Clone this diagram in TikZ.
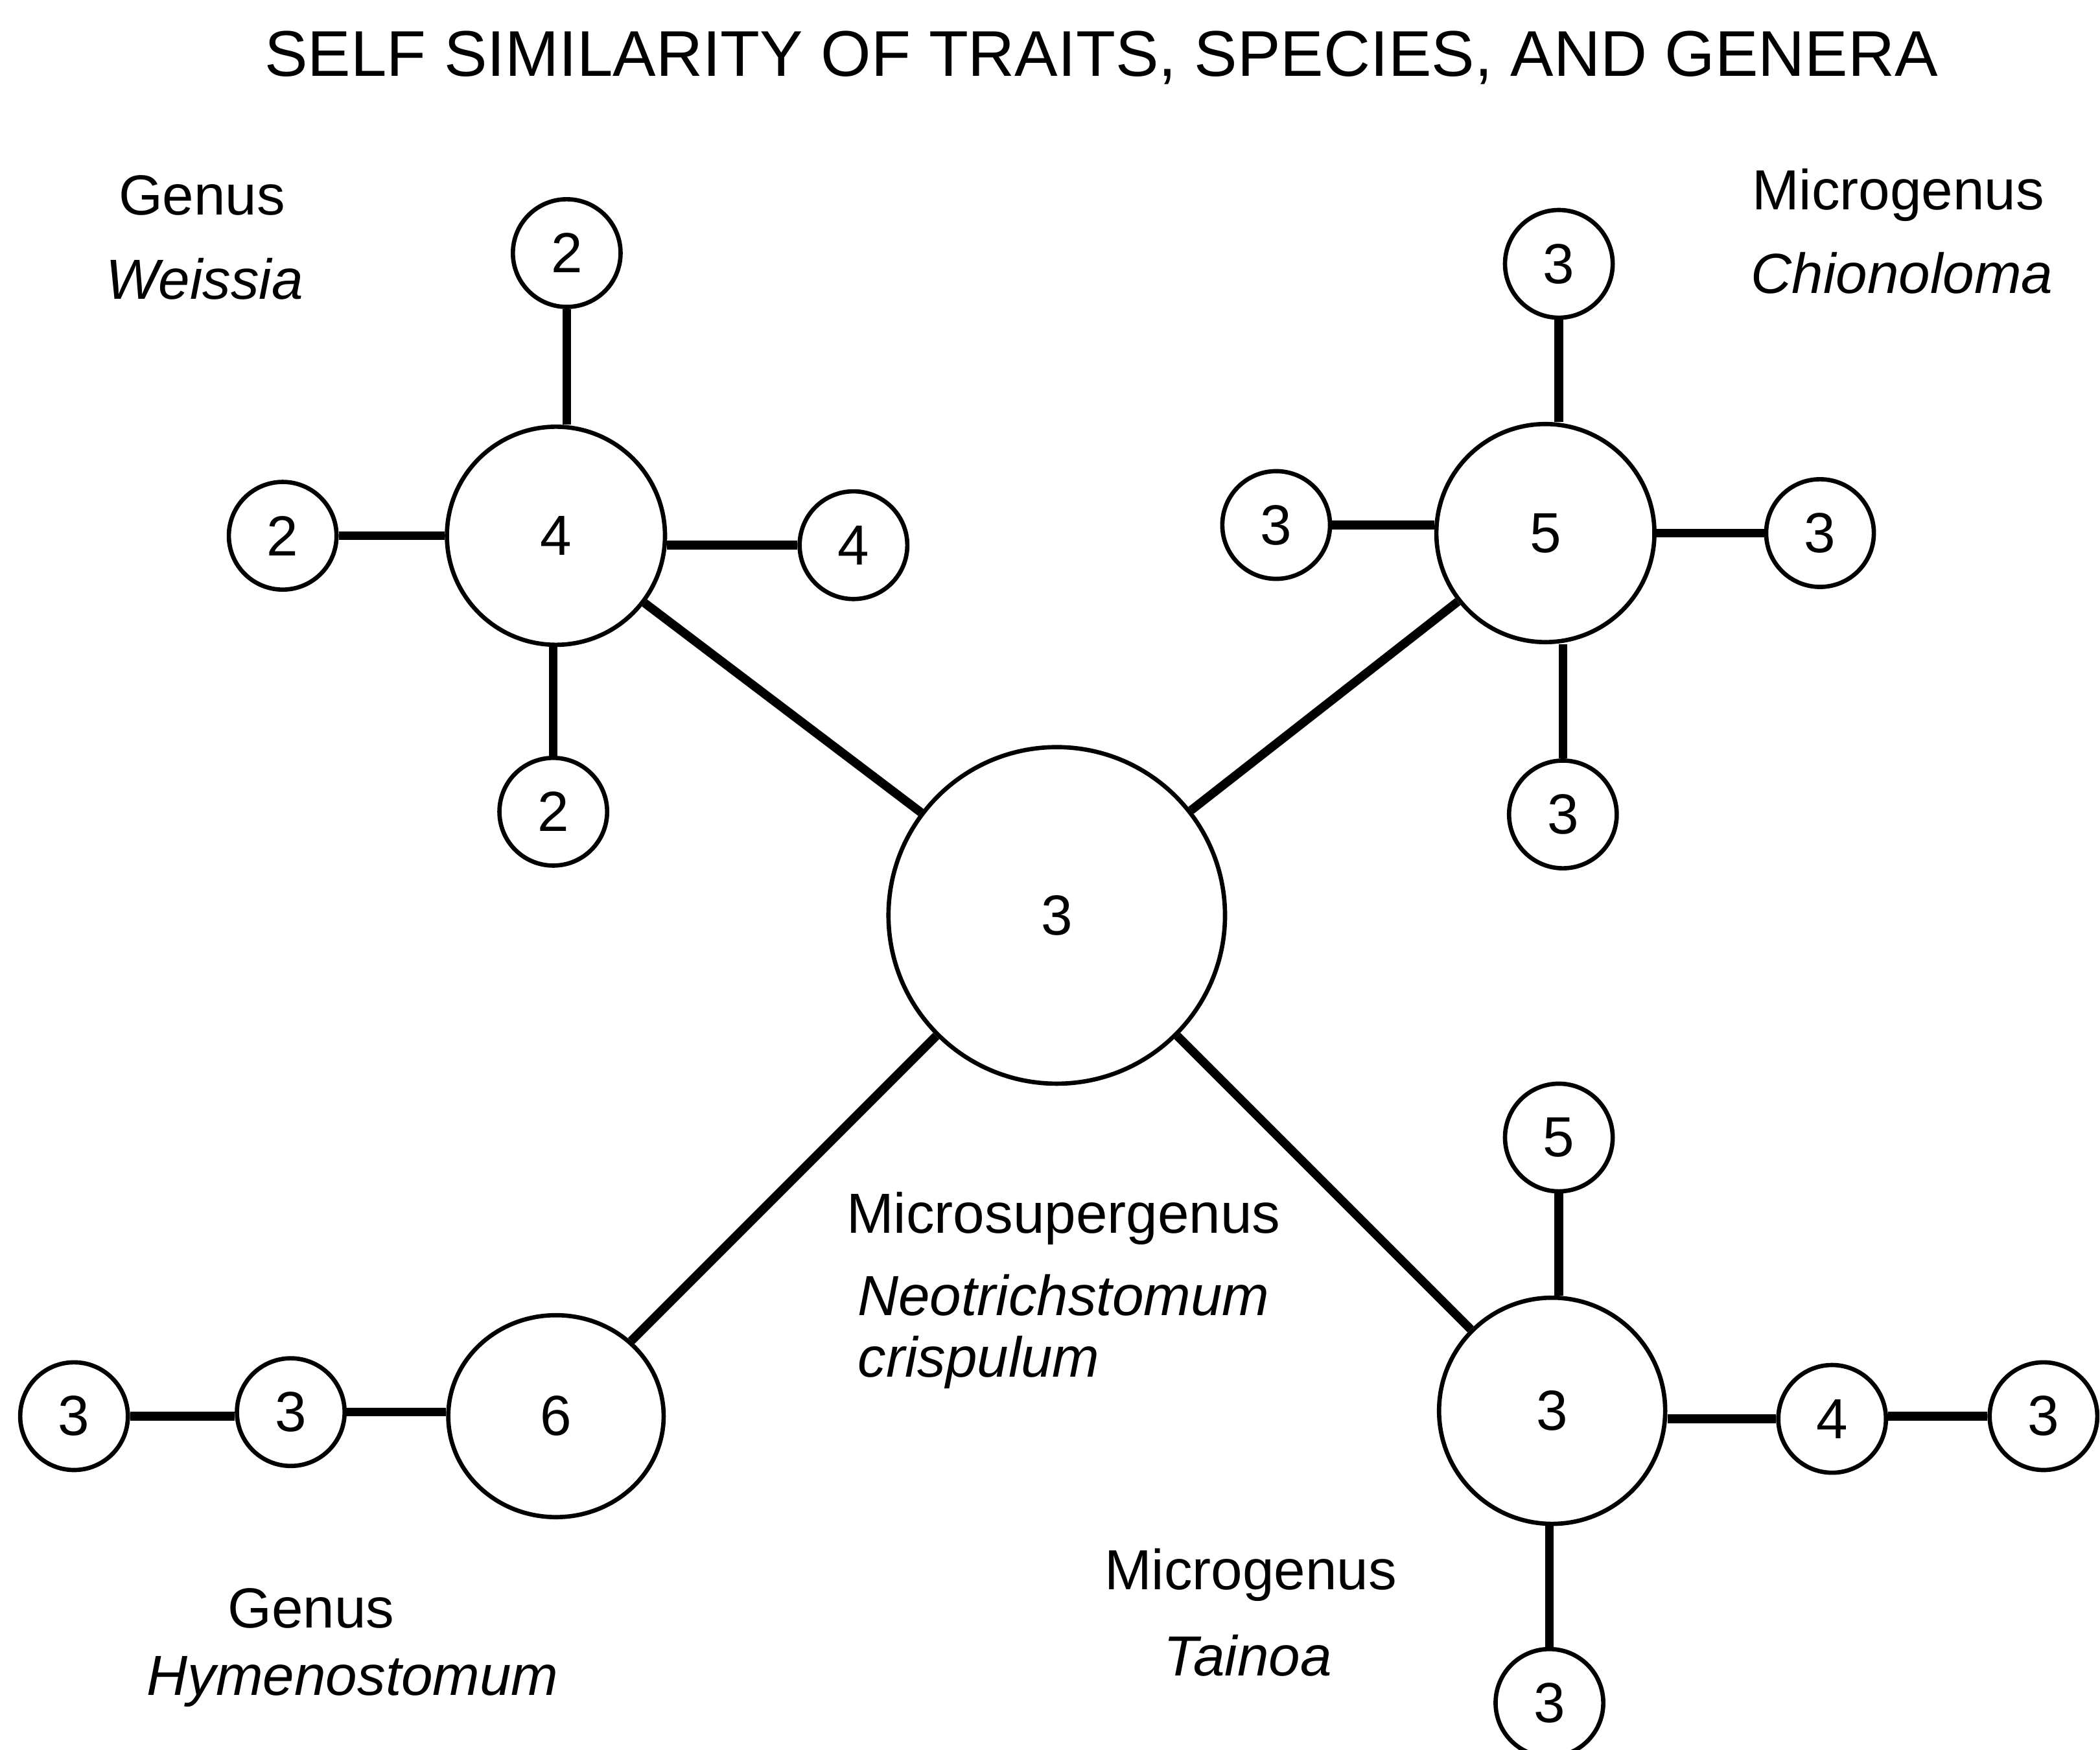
\documentclass[tikz,border=0pt]{standalone}
\usepackage{fontspec}
\setmainfont{Liberation Sans}
\usetikzlibrary{shapes.geometric}
\begin{document}
\begin{tikzpicture}[x=1pt,y=-1pt,
  sm/.style={circle,draw,line width=3.2pt,minimum size=80pt,inner sep=0pt,font=\fontsize{42}{46}\selectfont},
  hub/.style={circle,draw,line width=3.2pt,minimum size=162pt,inner sep=0pt,font=\fontsize{42}{46}\selectfont},
  big/.style={circle,draw,line width=3.2pt,minimum size=250pt,inner sep=0pt,font=\fontsize{42}{46}\selectfont},
  edge/.style={line width=6.5pt},
  lab/.style={font=\fontsize{42}{46}\selectfont,inner sep=0pt},
  ilab/.style={font=\fontsize{42}{46}\selectfont\itshape,inner sep=0pt}]
\path[use as bounding box] (0,0) rectangle (1560,1300);
\node[font=\fontsize{48}{52}\selectfont] (title) at (818,43) {SELF SIMILARITY OF TRAITS, SPECIES, AND GENERA};
\node[big] (c) at (785,680) {3};
\node[hub] (w) at (413,398) {4};
\node[sm] (w1) at (421,188) {2};
\node[sm] (w2) at (210,398) {2};
\node[sm] (w3) at (634,405) {4};
\node[sm] (w4) at (411,603) {2};
\node[hub] (ch) at (1148,396) {5};
\node[sm] (ch1) at (1158,196) {3};
\node[sm] (ch2) at (948,390) {3};
\node[sm] (ch3) at (1352,396) {3};
\node[sm] (ch4) at (1161,605) {3};
\node[ellipse,draw,line width=3.2pt,minimum width=160pt,minimum height=150pt,inner sep=0pt,font=\fontsize{42}{46}\selectfont] (h) at (413,1052) {6};
\node[sm] (h1) at (216,1049) {3};
\node[sm] (h2) at (55,1052) {3};
\node[hub,minimum size=168pt] (t) at (1153,1048) {3};
\node[sm] (t1) at (1158,845) {5};
\node[sm] (t2) at (1361,1054) {4};
\node[sm] (t3) at (1518,1052) {3};
\node[sm] (t4) at (1151,1265) {3};
\draw[edge] (c)--(w); \draw[edge] (c)--(ch); \draw[edge] (c)--(h); \draw[edge] (c)--(t);
\draw[edge] (w1.south)--(w1.south|-w.north); \draw[edge] (w2.east)--(w2.east-|w.west);
\draw[edge] (w3.west)--(w3.west-|w.east); \draw[edge] (w4.north)--(w4.north|-w.south);
\draw[edge] (ch1.south)--(ch1.south|-ch.north); \draw[edge] (ch2.east)--(ch2.east-|ch.west);
\draw[edge] (ch3.west)--(ch3.west-|ch.east); \draw[edge] (ch4.north)--(ch4.north|-ch.south);
\draw[edge] (h2.east)--(h2.east-|h1.west); \draw[edge] (h1.east)--(h1.east-|h.west);
\draw[edge] (t1.south)--(t1.south|-t.north); \draw[edge] (t2.west)--(t2.west-|t.east);
\draw[edge] (t3.west)--(t3.west-|t2.east); \draw[edge] (t4.north)--(t4.north|-t.south);
\node[lab] (l1) at (150,145) {Genus};
\node[ilab] (l2) at (152,207) {Weissia};
\node[lab] (l3) at (1410,145) {Microgenus};
\node[ilab] (l4) at (1413,203) {Chionoloma};
\node[lab] (l5) at (790,905) {Microsupergenus};
\node[ilab,anchor=west] (l6) at (637,962) {Neotrichstomum};
\node[ilab,anchor=west] (l7) at (637,1012) {crispulum};
\node[lab] (l8) at (231,1195) {Genus};
\node[ilab] (l9) at (262,1249) {Hymenostomum};
\node[lab] (l10) at (929,1170) {Microgenus};
\node[ilab] (l11) at (927,1230) {Tainoa};
\end{tikzpicture}
\end{document}
